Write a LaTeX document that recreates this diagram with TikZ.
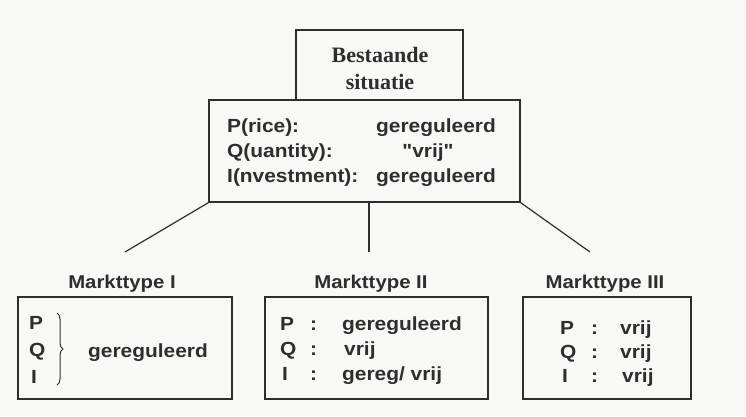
\documentclass[tikz,border=0pt]{standalone}
\usepackage{fontspec}
\newfontfamily\labelfont{Liberation Sans}[FakeStretch=1.1]
\newfontfamily\titlefont{Liberation Serif}
\usetikzlibrary{decorations.pathreplacing}
\definecolor{ink}{HTML}{2E2E2E}
\definecolor{paper}{HTML}{F8F8F6}
\tikzset{
  box/.style={draw=ink, line width=1.4pt, fill=paper, inner sep=0pt},
  txt/.style={text=ink, font=\labelfont\fontsize{19}{22}\selectfont\bfseries, inner sep=0pt, anchor=base west},
  head/.style={text=ink, font=\labelfont\fontsize{18.5}{22}\selectfont\bfseries, inner sep=0pt, anchor=base},
  link/.style={draw=ink, line width=1.2pt},
}
\begin{document}
\begin{tikzpicture}[x=1pt,y=-1pt]
\useasboundingbox[fill=paper] (0,0) rectangle (746,416);

% root: existing situation
\node[box, minimum width=167pt, minimum height=70pt] (top) at (379.5,65) {};
\node[box, minimum width=311pt, minimum height=102pt] (cur) at (364.5,151) {};
\node[text=ink, font=\titlefont\fontsize{22}{27}\selectfont\bfseries, align=center, inner sep=0pt] (title) at (380,68) {Bestaande\\situatie};

\node[txt] (pr) at (227,132) {P(rice):};
\node[txt] (qu) at (227,157) {Q(uantity):};
\node[txt] (in) at (227,182) {I(nvestment):};
\node[txt] (prv) at (376,132) {gereguleerd};
\node[txt, anchor=base] (quv) at (428,157) {"vrij"};
\node[txt] (inv) at (376,182) {gereguleerd};

% three market types
\node[box, minimum width=214pt, minimum height=102pt] (m1) at (125,348) {};
\node[box, minimum width=223pt, minimum height=102pt] (m2) at (376.5,348) {};
\node[box, minimum width=168pt, minimum height=102pt] (m3) at (607,348) {};

\node[head] (h1) at (122,288) {Markttype I};
\node[head] (h2) at (371,288) {Markttype II};
\node[head] (h3) at (605,288) {Markttype III};

\coordinate (e1) at (125,252);
\coordinate (e2) at (369,252);
\coordinate (e3) at (590,252);
\draw[link] (cur.south west) -- (e1);
\draw[link] (cur.south -| e2) -- (e2);
\draw[link] (cur.south east) -- (e3);

% type I
\node[txt] (p1) at (29,329) {P};
\node[txt] (q1) at (29,356) {Q};
\node[txt] (i1) at (31,383) {I};
\draw[ink, line width=1pt, decorate, decoration={brace, amplitude=6pt}] (57,313) -- (57,385);
\node[txt] (v1) at (88,357) {gereguleerd};

% type II
\node[txt] (p2) at (280,330) {P};
\node[txt] (q2) at (280,355) {Q};
\node[txt] (i2) at (282,380) {I};
\node[txt] (c2a) at (310,330) {:};
\node[txt] (c2b) at (310,355) {:};
\node[txt] (c2c) at (310,380) {:};
\node[txt] (v2a) at (342,330) {gereguleerd};
\node[txt] (v2b) at (344,355) {vrij};
\node[txt] (v2c) at (342,380) {gereg/ vrij};

% type III
\node[txt] (p3) at (560,334) {P};
\node[txt] (q3) at (560,358) {Q};
\node[txt] (i3) at (562,382) {I};
\node[txt] (c3a) at (591,334) {:};
\node[txt] (c3b) at (591,358) {:};
\node[txt] (c3c) at (591,382) {:};
\node[txt] (v3a) at (620,334) {vrij};
\node[txt] (v3b) at (620,358) {vrij};
\node[txt] (v3c) at (622,382) {vrij};
\end{tikzpicture}
\end{document}
